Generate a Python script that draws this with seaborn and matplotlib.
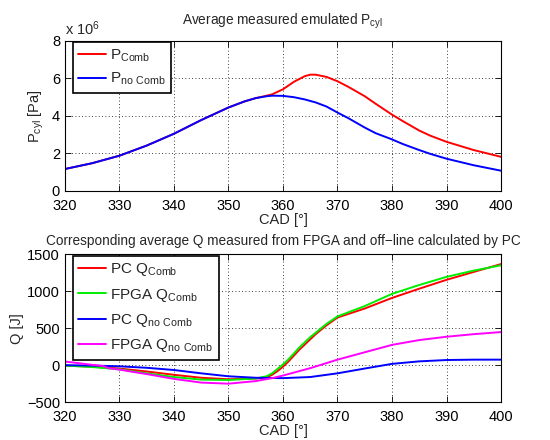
import numpy as np
import pandas as pd
import matplotlib
matplotlib.use("Agg")
import matplotlib.pyplot as plt
import seaborn as sns

# ---- data (top panel, pressure in units of 1e6 Pa) ----
cad_p = [320, 325, 330, 335, 340, 345, 350, 353, 355, 357, 358, 360, 362, 364,
         365, 366, 368, 370, 372, 375, 377, 380, 382, 385, 387, 390, 395, 400]
p_comb = [1.17, 1.48, 1.88, 2.42, 3.05, 3.78, 4.45, 4.78, 4.95, 5.08, 5.15, 5.42,
          5.82, 6.12, 6.20, 6.20, 6.08, 5.85, 5.55, 5.05, 4.65, 4.07, 3.72, 3.22,
          2.95, 2.62, 2.18, 1.82]
p_nocomb = [1.17, 1.48, 1.88, 2.42, 3.05, 3.78, 4.45, 4.78, 4.95, 5.05, 5.08, 5.07,
            5.00, 4.88, 4.80, 4.72, 4.50, 4.18, 3.88, 3.38, 3.08, 2.75, 2.50, 2.18,
            1.98, 1.72, 1.37, 1.08]

# ---- data (bottom panel, Q in J) ----
cad_qc = [320, 325, 330, 335, 340, 345, 350, 355, 357, 358, 359, 360, 361, 362,
          363, 364, 365, 366, 368, 370, 375, 380, 385, 390, 395, 400]
pc_q_comb = [-5, -20, -45, -85, -130, -170, -190, -180, -165, -130, -80, -20, 50,
             130, 210, 280, 350, 420, 540, 645, 767, 910, 1035, 1155, 1262, 1368]
fpga_q_comb = [-5, -25, -55, -110, -160, -195, -200, -180, -150, -110, -50, 10, 80,
               160, 240, 310, 380, 440, 560, 660, 800, 965, 1085, 1195, 1280, 1352]
cad_qn = [320, 325, 330, 335, 340, 345, 350, 355, 360, 365, 370, 375, 380, 385,
          390, 395, 400]
pc_q_nocomb = [0, -5, -15, -35, -65, -110, -150, -170, -175, -160, -110, -45, 18,
               52, 70, 75, 75]
cad_qf = [320, 325, 327, 328, 330, 335, 340, 345, 350, 355, 358, 360, 365, 370,
          375, 380, 385, 390, 395, 400]
fpga_q_nocomb = [50, 5, -10, -40, -60, -120, -185, -235, -250, -215, -175, -140,
                 -40, 75, 175, 275, 340, 385, 420, 448]

sns.set_style("white")
plt.rcParams['font.family'] = ['Liberation Sans', 'DejaVu Sans']
plt.rcParams['mathtext.default'] = 'regular'
plt.rcParams['xtick.direction'] = 'in'
plt.rcParams['ytick.direction'] = 'in'

fig = plt.figure(figsize=(5.5, 4.4), dpi=100)
ax1 = fig.add_axes([0.118, 0.566, 0.793, 0.341])
ax2 = fig.add_axes([0.118, 0.086, 0.793, 0.336])

def style(ax):
    for s in ax.spines.values():
        s.set_color('black')
        s.set_linewidth(0.8)
    ax.tick_params(axis='both', labelsize=10.5, length=4, width=0.6,
                   top=True, right=True, bottom=True, left=True, colors='black')
    ax.tick_params(axis='y', pad=3.5)
    ax.tick_params(axis='x', pad=5.5)
    ax.grid(True, linestyle=(0, (1, 3)), color='black', linewidth=0.6)
    ax.set_xlim(320, 400)
    ax.set_xticks(np.arange(320, 401, 10))

LW = 1.4
# top
df1 = pd.DataFrame({'cad': cad_p, 'comb': p_comb, 'nocomb': p_nocomb})
sns.lineplot(data=df1, x='cad', y='comb', ax=ax1, color='#ff0000', lw=LW,
             label=r'P$_{Comb}$')
sns.lineplot(data=df1, x='cad', y='nocomb', ax=ax1, color='#0000ff', lw=LW,
             label=r'P$_{no\ Comb}$')
style(ax1)
ax1.set_ylim(0, 8)
ax1.set_yticks([0, 2, 4, 6, 8])
ax1.set_xlabel('CAD [°]', fontsize=10.5, labelpad=0.5)
ax1.set_ylabel(r'P$_{cyl}$ [Pa]', fontsize=10.5, labelpad=4)
ax1.set_title(r'Average measured emulated P$_{cyl}$', fontsize=9.8, pad=12)
ax1.text(0.0, 1.02, r'x 10$^{6}$', transform=ax1.transAxes, fontsize=10.5,
         ha='left', va='bottom')
leg1 = ax1.legend(loc='upper left', bbox_to_anchor=(0.018, 0.99), borderaxespad=0,
                  fontsize=11, frameon=True, fancybox=False,
                  edgecolor='black', framealpha=1, handlelength=1.8,
                  labelspacing=0.45, handletextpad=0.3, borderpad=0.35)
leg1.get_frame().set_linewidth(1.2)

# bottom
sns.lineplot(x=cad_qc, y=pc_q_comb, ax=ax2, color='#ff0000', lw=LW,
             label=r'PC Q$_{Comb}$')
sns.lineplot(x=cad_qc, y=fpga_q_comb, ax=ax2, color='#00ee00', lw=LW,
             label=r'FPGA Q$_{Comb}$')
sns.lineplot(x=cad_qn, y=pc_q_nocomb, ax=ax2, color='#0000ff', lw=LW,
             label=r'PC Q$_{no\ Comb}$')
sns.lineplot(x=cad_qf, y=fpga_q_nocomb, ax=ax2, color='#ff00ff', lw=LW,
             label=r'FPGA Q$_{no\ Comb}$')
style(ax2)
ax2.set_ylim(-500, 1500)
ax2.set_yticks([-500, 0, 500, 1000, 1500])
ax2.set_yticklabels(['\u2212500', '0', '500', '1000', '1500'])
ax2.set_xlabel('CAD [°]', fontsize=10.5, labelpad=0.5)
ax2.set_ylabel('Q [J]', fontsize=10.5, labelpad=2)
ax2.set_title('Corresponding average Q measured from FPGA and off\u2212line calculated by PC',
              fontsize=9.8, pad=7)
leg2 = ax2.legend(loc='upper left', bbox_to_anchor=(0.018, 0.99), borderaxespad=0,
                  fontsize=11, frameon=True, fancybox=False,
                  edgecolor='black', framealpha=1, handlelength=1.8,
                  labelspacing=0.55, handletextpad=0.3, borderpad=0.35)
leg2.get_frame().set_linewidth(1.2)

fig.savefig('out.png', dpi=100)
